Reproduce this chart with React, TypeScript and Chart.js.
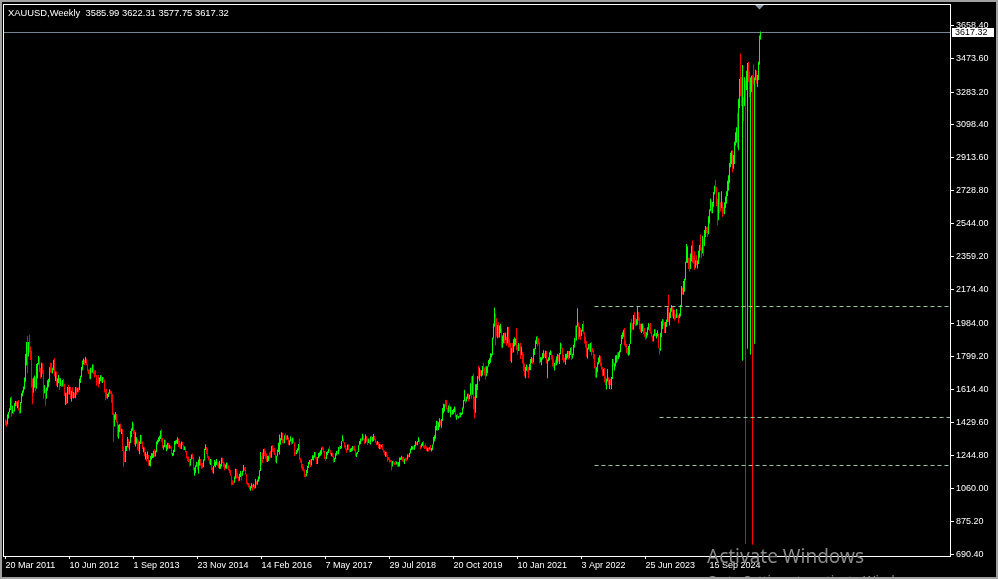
import React, { useEffect, useRef } from "react";
import { Chart, registerables } from "chart.js";

Chart.register(...registerables);

// ---------- DATA ----------
const chartTitle = "XAUUSD,Weekly";
const lastBarOHLC = ["3585.99", "3622.31", "3577.75", "3617.32"];
const firstOpen = 1432;

// Weekly bars, first bar = week of 20 Mar 2011, last = week of 7 Sep 2025
const weekHigh = [
  // 2011
  1447,1440,1476,1489,1509,1569,1577,1523,1500,1539,1550,1549,1547,1556,1512,1544,1594,1609,1631,1681,
  1814,1881,1913,1881,1921,1857,1832,1675,1681,1693,1683,1757,1763,1802,1795,1733,1764,1761,1724,1640,1616,
  // 2012
  1626,1666,1674,1739,1764,1763,1737,1781,1791,1716,1716,1677,1696,1680,1677,1660,1668,1675,1648,1596,
  1598,1628,1641,1629,1628,1608,1627,1601,1596,1628,1626,1624,1626,1675,1692,1740,1777,1788,1781,1796,
  1787,1756,1727,1727,1736,1738,1754,1755,1723,1722,1696,1669,1694,
  // 2013
  1682,1694,1696,1684,1684,1671,1614,1619,1589,1597,1616,1609,1605,1589,1485,1475,1488,1477,1437,1417,
  1419,1424,1394,1392,1296,1267,1298,1297,1348,1337,1323,1381,1397,1433,1423,1389,1375,1347,1337,1329,
  1323,1361,1361,1324,1291,1290,1264,1252,1267,1248,1217,1241,
  // 2014
  1256,1256,1271,1280,1272,1322,1332,1346,1355,1385,1392,1342,1302,1333,1331,1305,1315,1315,1305,1299,
  1294,1258,1277,1325,1328,1332,1346,1340,1325,1312,1322,1321,1305,1296,1292,1270,1240,1238,1225,1226,
  1250,1255,1235,1177,1190,1207,1206,1222,1238,1225,1200,1202,
  // 2015
  1223,1282,1307,1292,1285,1242,1233,1224,1223,1178,1187,1219,1210,1224,1209,1206,1215,1196,1232,1232,
  1207,1200,1194,1205,1204,1190,1170,1164,1133,1105,1098,1126,1170,1169,1147,1126,1142,1157,1146,1159,
  1191,1178,1180,1142,1096,1090,1081,1071,1088,1080,1085,1080,
  // 2016
  1112,1099,1110,1127,1162,1263,1240,1261,1281,1284,1270,1257,1243,1243,1262,1271,1297,1303,1284,1287,
  1257,1243,1278,1315,1362,1341,1375,1372,1338,1358,1367,1356,1357,1346,1329,1352,1338,1343,1343,1318,
  1264,1274,1285,1308,1337,1231,1221,1196,1182,1166,1140,1163,
  // 2017
  1185,1207,1219,1221,1225,1245,1244,1264,1264,1237,1234,1258,1262,1273,1289,1295,1287,1270,1236,1264,
  1268,1282,1296,1275,1258,1259,1243,1231,1257,1270,1274,1292,1301,1298,1326,1357,1338,1318,1303,1284,
  1306,1306,1282,1283,1288,1297,1298,1299,1279,1260,1267,1301,1326,
  // 2018
  1339,1345,1366,1355,1340,1362,1353,1341,1340,1329,1350,1355,1348,1365,1353,1337,1322,1326,1320,1308,
  1307,1303,1309,1279,1272,1263,1265,1247,1236,1228,1220,1219,1213,1214,1206,1212,1211,1206,1208,1233,
  1233,1243,1237,1237,1226,1231,1231,1251,1250,1260,1284,1298,
  // 2019
  1296,1297,1303,1326,1319,1324,1346,1334,1300,1311,1320,1325,1301,1311,1295,1288,1289,1290,1303,1286,
  1306,1348,1358,1411,1439,1437,1430,1453,1440,1449,1510,1535,1531,1555,1557,1510,1524,1535,1519,1517,
  1499,1506,1519,1514,1473,1478,1466,1484,1486,1484,1514,1556,
  // 2020
  1611,1563,1574,1591,1592,1585,1649,1689,1692,1704,1575,1644,1645,1690,1747,1738,1722,1722,1746,1765,
  1738,1745,1745,1745,1780,1789,1818,1817,1905,1984,2075,2040,2016,1976,1992,1973,1983,1955,1917,1932,
  1933,1933,1910,1965,1966,1899,1875,1848,1875,1896,1906,1900,
  // 2021
  1959,1864,1875,1870,1875,1855,1826,1815,1760,1740,1755,1745,1740,1758,1785,1797,1790,1843,1846,1890,
  1912,1916,1903,1879,1795,1795,1818,1834,1816,1832,1831,1782,1795,1823,1834,1828,1808,1787,1765,1781,
  1800,1813,1810,1818,1877,1870,1849,1809,1793,1815,1815,1831,
  // 2022
  1830,1830,1848,1853,1815,1865,1903,1974,1974,2070,1990,1966,1960,1950,1982,1998,1936,1909,1885,1849,
  1869,1874,1876,1879,1847,1836,1813,1745,1739,1767,1794,1807,1802,1765,1740,1729,1735,1688,1675,1729,
  1683,1670,1675,1684,1786,1786,1762,1805,1808,1824,1823,1833,
  // 2023
  1870,1921,1935,1949,1959,1890,1870,1848,1858,1871,1990,2010,1986,2032,2048,2015,2009,2079,2048,2018,
  1985,1983,1985,1972,1959,1937,1935,1963,1987,1982,1987,1940,1916,1925,1953,1953,1932,1947,1926,1849,
  1933,1997,2009,2009,1993,1993,2007,2075,2146,2047,2070,2088,2079,
  // 2024
  2063,2062,2036,2066,2044,2032,2041,2089,2195,2185,2223,2236,2331,2431,2418,2353,2353,2378,2422,2450,
  2364,2388,2340,2368,2339,2393,2425,2484,2412,2477,2462,2509,2531,2525,2529,2586,2625,2685,2673,2666,
  2722,2758,2790,2750,2685,2721,2721,2665,2726,2665,2638,2665,
  // 2025
  2697,2726,2786,2817,2886,2942,2954,2956,2930,3004,3057,3086,3167,3245,3357,3500,3367,3435,3252,3366,
  3346,3403,3446,3452,3398,3365,3375,3377,3438,3365,3409,3404,3379,3453,3600,3622.31,
];

const weekLow = [
  // 2011
  1414,1405,1418,1452,1486,1500,1462,1479,1475,1491,1521,1521,1509,1496,1478,1481,1539,1576,1596,1615,
  1658,1749,1705,1800,1822,1780,1626,1532,1596,1624,1603,1619,1676,1754,1712,1676,1685,1703,1562,1592,1523,
  // 2012
  1563,1607,1627,1655,1708,1706,1704,1722,1688,1662,1635,1627,1650,1612,1634,1628,1631,1630,1578,1527,
  1533,1537,1587,1586,1562,1547,1567,1564,1566,1565,1585,1599,1598,1612,1651,1683,1723,1754,1750,1763,
  1750,1716,1700,1673,1672,1705,1708,1701,1682,1690,1635,1646,1625,
  // 2013
  1645,1660,1654,1651,1658,1597,1554,1565,1562,1572,1590,1589,1539,1473,1321,1407,1445,1429,1348,1338,
  1375,1378,1365,1269,1180,1207,1207,1270,1291,1284,1272,1314,1347,1383,1365,1306,1294,1310,1277,1268,
  1251,1308,1309,1281,1262,1240,1221,1211,1224,1186,1187,1182,
  // 2014
  1220,1230,1231,1237,1239,1262,1306,1319,1325,1336,1322,1287,1277,1290,1287,1268,1278,1284,1283,1283,
  1249,1240,1243,1264,1306,1311,1308,1292,1288,1280,1281,1301,1273,1275,1261,1228,1213,1207,1183,1186,
  1221,1225,1160,1131,1146,1181,1165,1142,1187,1187,1170,1172,
  // 2015
  1180,1215,1275,1252,1232,1216,1197,1191,1163,1147,1142,1182,1178,1191,1184,1174,1170,1168,1182,1201,
  1181,1162,1171,1170,1170,1160,1146,1130,1077,1078,1080,1091,1114,1115,1117,1098,1102,1124,1104,1131,
  1153,1159,1138,1086,1077,1064,1052,1046,1060,1046,1066,1058,
  // 2016
  1060,1080,1080,1097,1111,1157,1191,1200,1225,1240,1226,1209,1207,1212,1224,1231,1232,1265,1261,1247,
  1206,1200,1240,1264,1250,1304,1330,1313,1310,1313,1334,1330,1334,1302,1302,1323,1306,1310,1315,1241,
  1250,1251,1260,1271,1220,1205,1171,1160,1155,1123,1122,1128,
  // 2017
  1146,1174,1195,1180,1188,1219,1216,1233,1223,1195,1196,1228,1237,1243,1250,1277,1261,1226,1214,1225,
  1247,1258,1266,1250,1240,1236,1205,1208,1225,1244,1252,1251,1268,1280,1284,1324,1316,1288,1276,1260,
  1275,1276,1262,1264,1265,1271,1276,1270,1241,1236,1252,1264,1302,
  // 2018
  1307,1322,1327,1330,1307,1315,1321,1303,1314,1308,1306,1322,1321,1325,1330,1316,1302,1305,1285,1281,
  1281,1291,1276,1261,1245,1237,1237,1211,1218,1204,1206,1160,1182,1196,1191,1192,1193,1182,1181,1182,
  1219,1220,1211,1205,1196,1213,1212,1221,1233,1236,1255,1275,
  // 2019
  1276,1276,1276,1295,1303,1302,1320,1311,1281,1289,1298,1287,1281,1285,1270,1266,1266,1278,1274,1266,
  1275,1305,1322,1338,1384,1382,1387,1402,1412,1400,1437,1480,1491,1518,1502,1485,1484,1490,1459,1474,
  1474,1478,1487,1456,1445,1456,1452,1456,1458,1471,1475,1508,
  // 2020
  1549,1536,1546,1563,1547,1560,1581,1563,1585,1504,1451,1484,1567,1611,1675,1660,1690,1687,1693,1716,
  1693,1670,1689,1705,1743,1758,1764,1794,1807,1899,1967,1863,1911,1902,1906,1906,1931,1848,1848,1873,
  1872,1891,1860,1872,1850,1853,1774,1764,1819,1823,1855,1863,
  // 2021
  1835,1809,1830,1831,1785,1807,1760,1717,1687,1677,1719,1713,1677,1721,1724,1762,1756,1766,1808,1841,
  1869,1855,1867,1761,1767,1750,1782,1791,1794,1789,1759,1677,1773,1779,1808,1782,1745,1737,1721,1746,
  1750,1760,1771,1758,1812,1843,1778,1762,1768,1753,1781,1789,
  // 2022
  1782,1789,1808,1780,1788,1807,1850,1878,1889,1966,1895,1910,1890,1915,1940,1928,1872,1850,1798,1787,
  1839,1829,1825,1805,1823,1784,1732,1681,1680,1711,1754,1764,1745,1727,1688,1691,1654,1639,1614,1659,
  1641,1617,1638,1616,1673,1747,1721,1743,1765,1773,1784,1797,
  // 2023
  1824,1865,1897,1911,1861,1852,1818,1809,1804,1809,1869,1934,1950,1950,1981,1969,1974,1978,2000,1951,
  1938,1932,1940,1925,1910,1893,1902,1917,1950,1942,1928,1911,1885,1884,1913,1915,1901,1912,1846,1810,
  1832,1908,1953,1970,1931,1932,1965,1993,1993,1973,2016,2051,2024,
  // 2024
  2013,2002,2010,2016,2015,1984,2015,2024,2078,2146,2146,2163,2228,2325,2324,2291,2277,2290,2332,2325,
  2320,2286,2298,2312,2293,2319,2354,2393,2353,2377,2364,2419,2470,2491,2471,2485,2546,2614,2603,2603,
  2639,2708,2724,2643,2536,2564,2605,2613,2632,2583,2600,2597,
  // 2025 (the feed contains several bad low ticks)
  2632,2656,2700,2730,2772,2861,2880,2832,2853,2880,2982,2999,2970,2956,3194,3260,3202,1776,3120,3205,
  749,3295,1843,3340,3255,1810,3283,744,3325,1871,3350,3331,3311,3351,3436,3577.75,
];

const weekClose = [
  // 2011
  1426,1420,1474,1486,1504,1556,1492,1493,1492,1536,1542,1530,1539,1500,1486,1542,1592,1601,1628,1663,
  1746,1851,1827,1879,1856,1812,1657,1624,1636,1683,1642,1744,1753,1788,1724,1686,1747,1714,1598,1606,1565,
  // 2012
  1617,1640,1664,1738,1725,1722,1725,1774,1710,1713,1655,1662,1668,1640,1658,1642,1663,1642,1579,1592,
  1573,1623,1593,1627,1571,1604,1579,1590,1580,1619,1604,1620,1616,1670,1690,1739,1772,1773,1772,1780,
  1758,1724,1711,1676,1731,1714,1752,1711,1703,1697,1658,1657,1656,
  // 2013
  1662,1687,1659,1667,1666,1609,1581,1576,1577,1592,1607,1598,1579,1477,1405,1462,1470,1437,1366,1386,
  1393,1383,1391,1296,1234,1223,1284,1295,1322,1312,1312,1376,1395,1395,1391,1308,1333,1338,1310,1272,
  1315,1352,1314,1286,1288,1243,1251,1230,1235,1204,1210,1237,
  // 2014
  1249,1252,1270,1241,1263,1319,1324,1331,1340,1379,1334,1294,1300,1318,1294,1301,1302,1291,1294,1292,
  1251,1252,1274,1316,1318,1320,1337,1310,1307,1293,1309,1305,1280,1287,1268,1230,1215,1214,1193,1221,
  1237,1231,1171,1177,1187,1195,1175,1192,1222,1195,1194,1186,
  // 2015
  1216,1276,1292,1281,1233,1227,1204,1212,1165,1152,1183,1198,1201,1205,1203,1177,1179,1188,1225,1204,
  1190,1168,1180,1201,1173,1168,1157,1132,1096,1094,1093,1113,1160,1134,1121,1108,1138,1145,1137,1156,
  1176,1163,1142,1088,1081,1076,1057,1061,1075,1065,1075,1061,
  // 2016
  1098,1089,1097,1117,1158,1239,1226,1221,1259,1258,1253,1218,1221,1241,1235,1233,1290,1289,1273,1252,
  1213,1243,1275,1298,1316,1339,1366,1327,1323,1350,1336,1335,1340,1321,1327,1328,1310,1338,1316,1257,
  1252,1267,1276,1304,1225,1208,1183,1177,1160,1133,1131,1151,
  // 2017
  1173,1196,1204,1190,1220,1234,1238,1257,1234,1201,1229,1243,1249,1254,1285,1284,1268,1228,1227,1254,
  1266,1279,1271,1254,1256,1242,1212,1228,1255,1269,1258,1290,1284,1291,1325,1346,1320,1297,1279,1274,
  1303,1280,1266,1269,1275,1294,1288,1279,1248,1257,1266,1300,1322,
  // 2018
  1338,1332,1348,1333,1316,1347,1330,1322,1323,1312,1347,1325,1332,1344,1335,1323,1314,1318,1291,1301,
  1294,1298,1278,1270,1252,1255,1241,1231,1223,1214,1211,1184,1206,1201,1197,1194,1199,1192,1203,1218,
  1226,1234,1232,1208,1223,1222,1220,1248,1238,1257,1279,1286,
  // 2019
  1290,1282,1298,1318,1314,1322,1328,1313,1298,1302,1313,1292,1291,1290,1275,1286,1279,1285,1277,1284,
  1305,1341,1342,1399,1409,1399,1415,1426,1419,1440,1497,1513,1527,1520,1507,1488,1517,1497,1505,1489,
  1490,1505,1514,1459,1468,1462,1463,1459,1476,1478,1510,1552,
  // 2020
  1561,1557,1571,1589,1570,1583,1643,1585,1674,1530,1498,1617,1620,1684,1683,1728,1700,1702,1743,1734,
  1729,1683,1729,1743,1771,1774,1799,1810,1902,1975,2035,1944,1940,1964,1933,1940,1950,1861,1899,1930,
  1899,1901,1878,1951,1889,1871,1788,1839,1838,1881,1883,1895,
  // 2021
  1849,1828,1856,1847,1813,1823,1784,1734,1700,1719,1745,1733,1728,1744,1777,1778,1769,1831,1844,1881,
  1905,1892,1877,1764,1781,1787,1808,1812,1802,1814,1763,1780,1781,1817,1827,1788,1754,1751,1761,1757,
  1768,1793,1783,1818,1864,1845,1788,1783,1782,1799,1810,1829,
  // 2022
  1797,1818,1835,1791,1808,1860,1898,1889,1970,1988,1921,1958,1925,1946,1974,1931,1897,1883,1811,1846,
  1853,1851,1871,1839,1827,1811,1742,1703,1727,1766,1775,1802,1747,1738,1712,1716,1675,1644,1660,1695,
  1644,1657,1644,1681,1771,1751,1754,1797,1798,1793,1798,1824,
  // 2023
  1865,1920,1926,1928,1865,1862,1842,1811,1856,1867,1989,1978,1969,2007,2004,1983,1990,2017,2011,1977,
  1946,1948,1961,1958,1921,1919,1925,1955,1961,1959,1943,1914,1889,1914,1940,1919,1924,1925,1849,1833,
  1932,1981,2006,1992,1940,1981,2001,2072,2004,2019,2053,2063,2049,
  // 2024
  2049,2029,2018,2039,2024,2013,2035,2083,2179,2155,2165,2232,2330,2344,2391,2338,2301,2360,2415,2334,
  2327,2294,2333,2321,2326,2392,2411,2400,2386,2443,2431,2507,2512,2503,2497,2578,2621,2658,2653,2656,
  2721,2747,2736,2684,2563,2715,2650,2633,2648,2622,2621,2640,
  // 2025
  2690,2702,2770,2798,2861,2883,2936,2858,2910,2984,3022,3084,3037,3237,3327,3319,3240,3325,3202,3358,
  3289,3310,3433,3368,3274,3337,3355,3350,3337,3363,3398,3336,3371,3448,3586,3617.32,
];

const dateTickIndex = [0, 64, 128, 192, 256, 320, 384, 448, 512, 576, 640, 704];
const dateTickLabels = [
  "20 Mar 2011", "10 Jun 2012", "1 Sep 2013", "23 Nov 2014", "14 Feb 2016", "7 May 2017",
  "29 Jul 2018", "20 Oct 2019", "10 Jan 2021", "3 Apr 2022", "25 Jun 2023", "15 Sep 2024",
];
const priceTicks = [
  3658.4, 3473.6, 3283.2, 3098.4, 2913.6, 2728.8, 2544.0, 2359.2, 2174.4,
  1984.0, 1799.2, 1614.4, 1429.6, 1244.8, 1060.0, 875.2, 690.4,
];
const bidPrice = 3617.32;
const levelPrices = [2080.0, 1457.3, 1188.0];
const levelStartIndex = [589, 654, 589];
const priceMin = 680.2;
const priceMax = 3771.6;
const indexMin = -1.5;
const indexMax = 944.5;

const FONT = "'Liberation Sans', Arial, sans-serif";

export default function App() {
  const canvasRef = useRef<HTMLCanvasElement | null>(null);

  useEffect(() => {
    document.body.style.margin = "0";
    document.body.style.background = "#000";
    const canvas = canvasRef.current;
    if (!canvas) return;

    const barData = weekHigh.map((h, i) => ({ x: i, y: [weekLow[i], h] }));
    const barColors = weekClose.map((c, i) => {
      const open = i === 0 ? firstOpen : weekClose[i - 1];
      return c >= open ? "#00ff00" : "#ff0000";
    });

    const lineDatasets: any[] = levelPrices.map((p, k) => ({
      type: "line",
      data: [
        { x: levelStartIndex[k], y: p },
        { x: indexMax, y: p },
      ],
      borderColor: "#9cc89c",
      borderWidth: 1,
      borderDash: [4, 3],
      pointRadius: 0,
      order: 1,
    }));

    const overlay = {
      id: "mtOverlay",
      beforeDraw(chart: any) {
        const { ctx, width, height } = chart;
        ctx.save();
        ctx.fillStyle = "#000000";
        ctx.fillRect(0, 0, width, height);
        ctx.restore();
      },
      afterDraw(chart: any) {
        const { ctx, chartArea, scales } = chart;
        ctx.save();
        // chart frame
        ctx.strokeStyle = "#ffffff";
        ctx.lineWidth = 1;
        ctx.strokeRect(
          chartArea.left - 0.5,
          chartArea.top - 0.5,
          chartArea.right - chartArea.left + 1,
          chartArea.bottom - chartArea.top + 1
        );
        // header
        ctx.fillStyle = "#ffffff";
        ctx.font = `9.4px ${FONT}`;
        ctx.textBaseline = "middle";
        ctx.textAlign = "left";
        ctx.fillText(`${chartTitle}  ${lastBarOHLC.join(" ")}`, 8, 13);
        // bid label box
        ctx.font = `9px ${FONT}`;
        const yb = scales.y.getPixelForValue(bidPrice);
        ctx.fillStyle = "#ffffff";
        ctx.fillRect(952, Math.round(yb - 4.5), 42, 9);
        ctx.fillStyle = "#000000";
        ctx.fillText(bidPrice.toFixed(2), 955, yb + 0.5);
        // shift marker triangle
        const xs = scales.x.getPixelForValue(weekHigh.length - 1) - 1;
        ctx.fillStyle = "#8a98a8";
        ctx.beginPath();
        ctx.moveTo(xs - 4.5, 5);
        ctx.lineTo(xs + 4.5, 5);
        ctx.lineTo(xs, 9.5);
        ctx.closePath();
        ctx.fill();
        // window watermark
        ctx.fillStyle = "#8a8a8a";
        ctx.textBaseline = "alphabetic";
        ctx.font = `19px 'Noto Sans', 'Open Sans', sans-serif`;
        ctx.fillText("Activate Windows", 707, 563);
        ctx.font = `13px 'Noto Sans', 'Open Sans', sans-serif`;
        ctx.fillText("Go to Settings to activate Windows.", 707, 585);
        // window border
        ctx.fillStyle = "#a0a0a0";
        ctx.fillRect(0, 0, 998, 2);
        ctx.fillRect(0, 0, 2, 579);
        ctx.fillRect(0, 577, 998, 2);
        ctx.fillRect(996, 0, 2, 579);
        ctx.restore();
      },
    };

    const chart = new Chart(canvas, {
      type: "bar",
      data: {
        datasets: [
          {
            type: "bar",
            data: barData as any,
            backgroundColor: barColors,
            barThickness: 1,
            borderWidth: 0,
            inflateAmount: 0,
            order: 2,
          } as any,
          {
            type: "line",
            data: [
              { x: indexMin, y: bidPrice },
              { x: indexMax, y: bidPrice },
            ],
            borderColor: "#778899",
            borderWidth: 1,
            pointRadius: 0,
            order: 3,
          } as any,
          ...lineDatasets,
        ],
      },
      options: {
        responsive: false,
        animation: false,
        devicePixelRatio: 1,
        events: [],
        layout: { padding: { left: 4, top: 5, right: 0, bottom: 0 } },
        plugins: {
          legend: { display: false },
          tooltip: { enabled: false },
        },
        scales: {
          x: {
            type: "linear",
            min: indexMin,
            max: indexMax,
            offset: false,
            grid: {
              display: true,
              drawOnChartArea: false,
              drawTicks: true,
              tickLength: 3,
              color: "#ffffff",
              offset: false,
            },
            border: { display: false },
            ticks: {
              autoSkip: false,
              maxRotation: 0,
              minRotation: 0,
              align: "start",
              padding: 1,
              color: "#ffffff",
              font: { family: FONT, size: 9 },
              callback: (v: any) => {
                const k = dateTickIndex.indexOf(Number(v));
                return k >= 0 ? dateTickLabels[k] : "";
              },
            },
            afterBuildTicks: (s: any) => {
              s.ticks = dateTickIndex.map((v) => ({ value: v }));
            },
            afterFit: (s: any) => {
              s.height = 23;
              s.paddingLeft = 0;
              s.paddingRight = 0;
            },
          } as any,
          y: {
            type: "linear",
            position: "right",
            min: priceMin,
            max: priceMax,
            grid: {
              display: true,
              drawOnChartArea: false,
              drawTicks: true,
              tickLength: 4,
              color: "#ffffff",
            },
            border: { display: false },
            ticks: {
              padding: 2,
              color: "#ffffff",
              font: { family: FONT, size: 9 },
              callback: (v: any) => Number(v).toFixed(2),
            },
            afterBuildTicks: (s: any) => {
              s.ticks = priceTicks.map((v) => ({ value: v }));
            },
            afterFit: (s: any) => {
              s.width = 48;
              s.paddingTop = 0;
              s.paddingBottom = 0;
            },
          } as any,
        },
      } as any,
      plugins: [overlay],
    });

    return () => chart.destroy();
  }, []);

  return (
    <div style={{ width: 998, height: 579, background: "#000" }}>
      <canvas
        ref={canvasRef}
        width={998}
        height={579}
        style={{ display: "block", width: 998, height: 579 }}
      />
    </div>
  );
}
